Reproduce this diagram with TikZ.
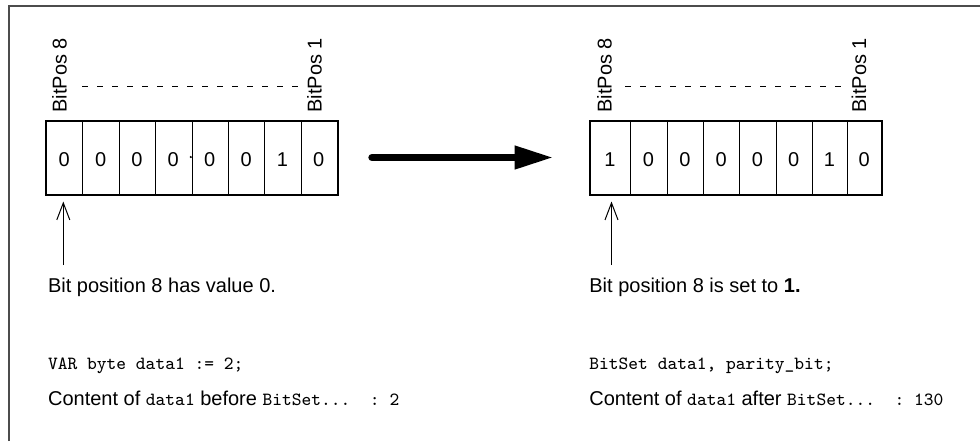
\documentclass[tikz,border=0pt]{standalone}
\usepackage{fontspec}
\setmainfont{Liberation Sans}
\usetikzlibrary{arrows.meta}
\begin{document}
\begin{tikzpicture}[x=0.5pt,y=-0.5pt,
  cell/.style={draw=black, line width=0.5pt, inner sep=0pt, minimum height=36.5pt, anchor=north west},
  digit/.style={inner sep=0pt, font=\fontsize{10}{12}\selectfont},
  outer/.style={draw=black, line width=1.3pt},
  bitpos/.style={rotate=90, anchor=base west, inner sep=0pt, font=\fontsize{10}{12}\selectfont},
  dashline/.style={line width=0.5pt, dash pattern=on 3pt off 4.5pt},
  txt/.style={anchor=base west, inner sep=0pt, font=\fontsize{10}{12}\selectfont},
  code/.style={anchor=base west, inner sep=0pt, font=\fontsize{9.3}{11}\ttfamily},
  pointer/.style={line width=0.5pt, -{Straight Barb[length=8.5pt, width=6.5pt]}},
  bigarrow/.style={line width=3.7pt, line cap=round, -{Triangle[length=19.5pt, width=11pt]}},
  frameline/.style={line width=1pt, draw=black!70}
]
\newcommand\cf{\fontsize{9.3}{11}\ttfamily}
\useasboundingbox (0,0) rectangle (980,441);
% frame (top and left)
\coordinate (fTL) at (9,5.5);
\coordinate (fTR) at (980,5.5);
\coordinate (fBL) at (9,441);
\draw[frameline] (fBL) -- (fTL) -- (fTR);

% left register
\foreach \a/\b/\v [count=\i] in {46/82.4/0,82.4/118.8/0,118.8/155.1/0,155.1/191.5/0,191.5/227.9/0,227.9/264.3/0,264.3/300.6/1,300.6/337/0}{
  \node[cell, minimum width={(\b-\a)*0.5pt}] (L\i) at (\a,121) {};
  \node[digit] (Ld\i) at ({(\a+\b)/2},159.7) {\v};
}
\draw[outer] (L1.north west) rectangle (L8.south east);
\fill (190.8,157) circle (0.6pt);
\node[bitpos] (Lb8) at (66.7,113) {BitPos 8};
\node[bitpos] (Lb1) at (321.5,113) {BitPos 1};
\coordinate (Lda) at (82,86);
\coordinate (Ldb) at (304,86);
\draw[dashline] (Lda) -- (Ldb);

% right register
\foreach \a/\b/\v [count=\i] in {590/630/1,630/666.7/0,666.7/703.3/0,703.3/739/0,739/775.7/0,775.7/811.7/0,811.7/847.3/1,847.3/881/0}{
  \node[cell, minimum width={(\b-\a)*0.5pt}] (R\i) at (\a,121) {};
  \node[digit] (Rd\i) at ({(\a+\b)/2},159.7) {\v};
}
\draw[outer] (R1.north west) rectangle (R8.south east);
\node[bitpos] (Rb8) at (611.7,113) {BitPos 8};
\node[bitpos] (Rb1) at (866,113) {BitPos 1};
\coordinate (Rda) at (625,86);
\coordinate (Rdb) at (844,86);
\draw[dashline] (Rda) -- (Rdb);

% big arrow
\coordinate (bA) at (372,157.5);
\coordinate (bB) at (553.5,157.5);
\draw[bigarrow] (bA) -- (bB);

% pointers
\coordinate (LpS) at (63.3,265);
\coordinate (LpT) at (63.3,201.5);
\draw[pointer] (LpS) -- (LpT);
\coordinate (RpS) at (611.5,265);
\coordinate (RpT) at (611.5,201.5);
\draw[pointer] (RpS) -- (RpT);

% texts left
\node[txt] (Lt) at (47.7,292.7) {Bit position 8 has value 0.};
\node[code] (Lc) at (47.7,369) {VAR byte data1 := 2;};
\node[txt] (Lr) at (47.7,405) {Content of {\cf data1} before {\cf BitSet...\ \ :\ 2}};

% texts right
\node[txt] (Rt) at (589,292.7) {Bit position 8 is set to \textbf{1.}};
\node[code] (Rc) at (589,369) {BitSet data1, parity\_bit;};
\node[txt] (Rr) at (589,405) {Content of {\cf data1} after {\cf BitSet...\ \ :\ 130}};
\end{tikzpicture}
\end{document}
